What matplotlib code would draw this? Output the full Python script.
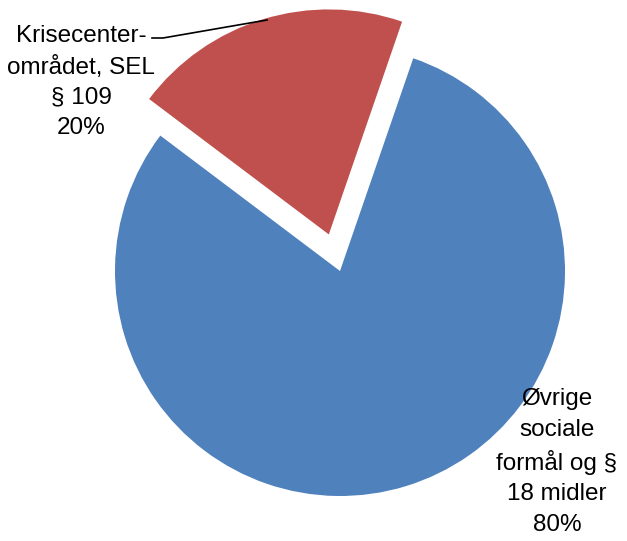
import matplotlib
matplotlib.use("Agg")
import matplotlib.pyplot as plt

# data
labels = ["Krisecenter-\nområdet, SEL\n§ 109", "Øvrige\nsociale\nformål og §\n18 midler"]
shares = [20, 80]
colors = ["#C0504D", "#4F81BD"]
explode = [0.17, 0]

plt.rcParams['font.family'] = ['Liberation Sans', 'DejaVu Sans']

W, H = 627, 541
CX, CY, R = 340, 271, 225   # pie centre and radius in pixels (from top-left)


def px(x, y):
    """pixel position (top-left origin) -> data coords of the pie axes"""
    return (x - CX) / R, (CY - y) / R


fig = plt.figure(figsize=(W / 100, H / 100), dpi=100)
ax = fig.add_axes([0, 0, 1, 1])
ax.pie(shares, colors=colors, explode=explode, startangle=71,
       wedgeprops=dict(linewidth=0))
ax.set_aspect('equal')
ax.set_xlim(-CX / R, (W - CX) / R)
ax.set_ylim((CY - H) / R, CY / R)
ax.axis('off')

# data labels
tx, ty = px(81, 82)
ax.text(tx, ty, f"{labels[0]}\n{shares[0]}%", ha='center', va='center',
        fontsize=17.5, linespacing=1.48, color='black')
bx, by = px(557, 462)
ax.text(bx, by, f"{labels[1]}\n{shares[1]}%", ha='center', va='center',
        fontsize=17.5, linespacing=1.48, color='black')

# leader line for the small slice
lx = [px(152, 38)[0], px(163, 38)[0], px(267, 20)[0]]
ly = [px(152, 38)[1], px(163, 38)[1], px(267, 20)[1]]
ax.plot(lx, ly, color='black', linewidth=1.2)

fig.savefig("out.png", dpi=100)
